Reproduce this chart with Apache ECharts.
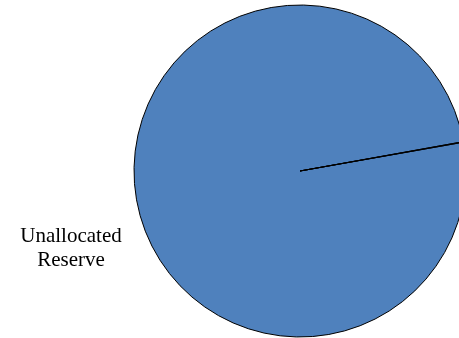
<!DOCTYPE html>
<html>
<head>
<meta charset="utf-8">
<script src="https://cdn.jsdelivr.net/npm/echarts@6/dist/echarts.min.js"></script>
<style>
  html, body { margin: 0; padding: 0; background: #fff; }
  #chart { width: 459px; height: 338px; }
</style>
</head>
<body>
<div id="chart"></div>
<script>
// Reserve allocation shares
const categories = ['Unallocated\nReserve', 'Allocated'];
const shares = [99.95, 0.05];

const chart = echarts.init(document.getElementById('chart'), null, { renderer: 'canvas' });

const data = categories.map((name, i) => ({
  name: name,
  value: shares[i],
  label: { show: i === 0 }
}));

chart.setOption({
  animation: false,
  series: [{
    type: 'pie',
    center: [300, 171],
    radius: 166,
    startAngle: 10,
    clockwise: true,
    minAngle: 0,
    avoidLabelOverlap: false,
    data: data,
    itemStyle: {
      color: '#4F81BD',
      borderColor: '#000',
      borderWidth: 1
    },
    emphasis: { disabled: true },
    labelLine: { show: false },
    label: {
      position: 'outside',
      color: '#000',
      fontFamily: 'Liberation Serif, Times New Roman, serif',
      fontSize: 21,
      lineHeight: 24,
      align: 'center'
    },
    labelLayout: function () {
      return { x: 71, y: 248, align: 'center', verticalAlign: 'middle' };
    }
  }]
});
</script>
</body>
</html>
